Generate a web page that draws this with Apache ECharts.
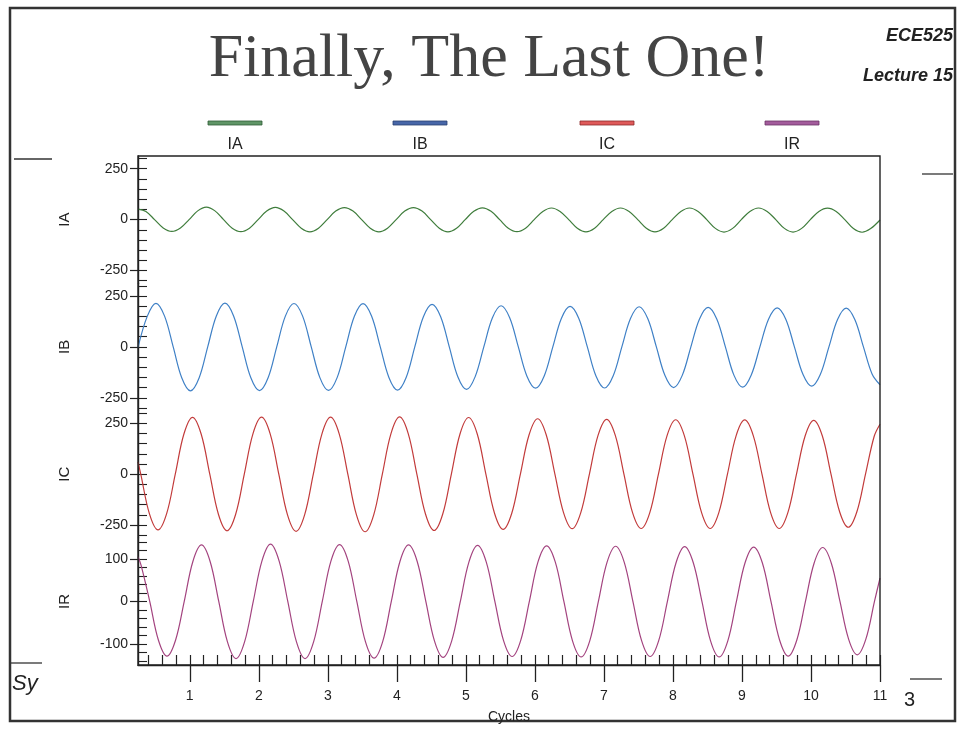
<!DOCTYPE html>
<html><head><meta charset="utf-8">
<script src="https://cdn.jsdelivr.net/npm/echarts@6/dist/echarts.min.js"></script>
<style>html,body{margin:0;padding:0;background:#fff}#c{width:964px;height:729px}</style>
</head><body><div id="c"></div>
<script>
// ---- data: [cycle, current] samples (eight per cycle, aligned on peaks/troughs) ----
const seriesNames = ['IA', 'IB', 'IC', 'IR'];
const iaPoints = [
  [0.25,52],[0.365,40],[0.49,0],[0.615,-41],[0.74,-58],[0.865,-41],[0.99,0],[1.115,43],
  [1.24,61],[1.365,43],[1.49,0],[1.615,-42],[1.74,-59],[1.865,-42],[1.99,0],[2.115,42],
  [2.24,60],[2.365,42],[2.49,0],[2.615,-42],[2.74,-60],[2.865,-42],[2.99,0],[3.115,42],
  [3.24,59],[3.365,42],[3.49,0],[3.615,-42],[3.74,-60],[3.865,-42],[3.99,0],[4.115,42],
  [4.24,59],[4.365,42],[4.49,0],[4.615,-42],[4.74,-60],[4.865,-42],[4.99,0],[5.115,41],
  [5.24,58],[5.365,41],[5.49,0],[5.615,-42],[5.74,-59],[5.865,-42],[5.99,0],[6.115,40],
  [6.24,57],[6.365,40],[6.49,0],[6.615,-42],[6.74,-60],[6.865,-42],[6.99,0],[7.115,40],
  [7.24,57],[7.365,40],[7.49,0],[7.615,-42],[7.74,-60],[7.865,-42],[7.99,0],[8.115,40],
  [8.24,57],[8.365,40],[8.49,0],[8.615,-43],[8.74,-61],[8.865,-43],[8.99,0],[9.115,40],
  [9.24,57],[9.365,40],[9.49,0],[9.615,-43],[9.74,-61],[9.865,-43],[9.99,0],[10.115,40],
  [10.24,56],[10.365,40],[10.49,0],[10.615,-44],[10.74,-62],[10.865,-44],[11,-2]
];
const ibPoints = [
  [0.25,-3],[0.385,151],[0.51,214],[0.635,151],[0.76,0],[0.885,-153],[1.01,-216],[1.135,-153],
  [1.26,0],[1.385,152],[1.51,215],[1.635,152],[1.76,0],[1.885,-152],[2.01,-215],[2.135,-152],
  [2.26,0],[2.385,151],[2.51,213],[2.635,151],[2.76,0],[2.885,-151],[3.01,-214],[3.135,-151],
  [3.26,0],[3.385,150],[3.51,212],[3.635,150],[3.76,0],[3.885,-150],[4.01,-212],[4.135,-150],
  [4.26,0],[4.385,148],[4.51,209],[4.635,148],[4.76,0],[4.885,-148],[5.01,-209],[5.135,-146],
  [5.26,0],[5.385,143],[5.51,202],[5.635,143],[5.76,0],[5.885,-144],[6.01,-203],[6.135,-143],
  [6.26,0],[6.385,141],[6.51,199],[6.635,141],[6.76,0],[6.885,-143],[7.01,-202],[7.135,-142],
  [7.26,0],[7.385,139],[7.51,197],[7.635,139],[7.76,0],[7.885,-141],[8.01,-200],[8.135,-140],
  [8.26,0],[8.385,137],[8.51,194],[8.635,137],[8.76,0],[8.885,-140],[9.01,-198],[9.135,-138],
  [9.26,0],[9.385,136],[9.51,192],[9.635,136],[9.76,0],[9.885,-136],[10.01,-193],[10.135,-136],
  [10.26,0],[10.385,134],[10.51,190],[10.635,134],[10.76,0],[10.885,-133],[11,-186]
];
const icPoints = [
  [0.25,60],[0.29,0],[0.415,-194],[0.54,-274],[0.665,-194],[0.79,0],[0.915,197],
  [1.04,279],[1.165,197],[1.29,0],[1.415,-197],[1.54,-278],[1.665,-197],[1.79,0],[1.915,198],
  [2.04,280],[2.165,198],[2.29,0],[2.415,-199],[2.54,-281],[2.665,-199],[2.79,0],[2.915,198],
  [3.04,280],[3.165,198],[3.29,0],[3.415,-200],[3.54,-283],[3.665,-200],[3.79,0],[3.915,199],
  [4.04,281],[4.165,199],[4.29,0],[4.415,-196],[4.54,-277],[4.665,-196],[4.79,0],[4.915,197],
  [5.04,278],[5.165,197],[5.29,0],[5.415,-192],[5.54,-271],[5.665,-192],[5.79,0],[5.915,192],
  [6.04,272],[6.165,192],[6.29,0],[6.415,-189],[6.54,-268],[6.665,-189],[6.79,0],[6.915,190],
  [7.04,269],[7.165,190],[7.29,0],[7.415,-189],[7.54,-267],[7.665,-189],[7.79,0],[7.915,189],
  [8.04,267],[8.165,189],[8.29,0],[8.415,-189],[8.54,-267],[8.665,-189],[8.79,0],[8.915,188],
  [9.04,266],[9.165,188],[9.29,0],[9.415,-189],[9.54,-267],[9.665,-189],[9.79,0],[9.915,187],
  [10.04,264],[10.165,187],[10.29,0],[10.415,-185],[10.54,-261],[10.665,-185],[10.79,0],[10.915,185],[11,245]
];
const irPoints = [
  [0.25,105],[0.295,85],[0.42,0],[0.545,-91],[0.67,-129],[0.795,-91],[0.92,0],[1.045,94],
  [1.17,133],[1.295,94],[1.42,0],[1.545,-95],[1.67,-135],[1.795,-95],[1.92,0],[2.045,95],
  [2.17,135],[2.295,95],[2.42,0],[2.545,-95],[2.67,-135],[2.795,-95],[2.92,0],[3.045,95],
  [3.17,134],[3.295,95],[3.42,0],[3.545,-95],[3.67,-134],[3.795,-95],[3.92,0],[4.045,94],
  [4.17,133],[4.295,94],[4.42,0],[4.545,-93],[4.67,-132],[4.795,-93],[4.92,0],[5.045,93],
  [5.17,132],[5.295,93],[5.42,0],[5.545,-92],[5.67,-130],[5.795,-92],[5.92,0],[6.045,93],
  [6.17,131],[6.295,93],[6.42,0],[6.545,-93],[6.67,-131],[6.795,-93],[6.92,0],[7.045,92],
  [7.17,130],[7.295,92],[7.42,0],[7.545,-92],[7.67,-130],[7.795,-92],[7.92,0],[8.045,91],
  [8.17,129],[8.295,91],[8.42,0],[8.545,-93],[8.67,-131],[8.795,-93],[8.92,0],[9.045,91],
  [9.17,128],[9.295,91],[9.42,0],[9.545,-91],[9.67,-129],[9.795,-91],[9.92,0],[10.045,90],
  [10.17,127],[10.295,90],[10.42,0],[10.545,-89],[10.67,-126],[10.795,-89],[10.92,0],[11,55]
];
const xTickLabels = [1,2,3,4,5,6,7,8,9,10,11];
const yTickLabelsCurrent = [-250, 0, 250];
const yTickLabelsIR = [-100, 0, 100];
const xRange = [0.25, 11];
const yRanges = [[-312.5,312.5],[-312.5,312.5],[-312.5,312.5],[-150,150]];

// ---- styling / layout ----
const lineColors = ['#3f7d3c', '#3f80c6', '#c23b3b', '#a3437f'];
const legendFill = ['#5f9566', '#4766a8', '#df5a5a', '#a35c9c'];
const legendStroke = ['#2f5a35', '#2a3f70', '#8a2a2a', '#6a3465'];
const legendX = [235, 420, 607, 792];
const L = 138, T = 156, W = 742, H = 509, PH = H / 4;
const FONT = 'Liberation Sans';

const allPoints = [iaPoints, ibPoints, icPoints, irPoints];
const majorY = [yTickLabelsCurrent, yTickLabelsCurrent, yTickLabelsCurrent, yTickLabelsIR];
const minorY = [];
for (let i = 0; i < 4; i++) {
  const step = i === 3 ? 20 : 50, lim = i === 3 ? 140 : 300, arr = [];
  for (let v = -lim; v <= lim + 1e-9; v += step) arr.push(v);
  minorY.push(arr);
}
const minorX = [];
for (let k = 2; k <= 55; k++) minorX.push(+(k * 0.2).toFixed(1));

const grids = [], xAxes = [], yAxes = [], series = [];
for (let i = 0; i < 4; i++) {
  grids.push({ left: L, top: T + i * PH, width: W, height: PH });
  const bottom = i === 3;
  xAxes.push({
    gridIndex: i, type: 'value', min: xRange[0], max: xRange[1], position: 'bottom',
    show: bottom,
    axisLine: { show: bottom, onZero: false, lineStyle: { color: '#222', width: 1.4 } },
    axisTick: { show: bottom, inside: false, length: 17, customValues: xTickLabels, lineStyle: { color: '#222', width: 1.3 } },
    axisLabel: { show: bottom, customValues: xTickLabels, margin: 24, fontSize: 14, fontFamily: FONT, color: '#222' },
    splitLine: { show: false },
    name: bottom ? 'Cycles' : '', nameLocation: 'middle', nameGap: 45,
    nameTextStyle: { fontSize: 14, fontFamily: FONT, color: '#222' }
  });
  yAxes.push({
    gridIndex: i, type: 'value', min: yRanges[i][0], max: yRanges[i][1], position: 'left',
    axisLine: { show: true, onZero: false, lineStyle: { color: '#222', width: 1.4 } },
    axisTick: { show: true, inside: false, length: 8, customValues: majorY[i], lineStyle: { color: '#222', width: 1.2 } },
    axisLabel: { customValues: majorY[i], margin: 10, fontSize: 14, fontFamily: FONT, color: '#222' },
    splitLine: { show: false },
    name: seriesNames[i], nameLocation: 'middle', nameRotate: 90, nameGap: 66,
    nameTextStyle: { fontSize: 15, fontFamily: FONT, color: '#222' }
  });
  yAxes.push({
    gridIndex: i, type: 'value', min: yRanges[i][0], max: yRanges[i][1], position: 'left',
    axisLine: { show: false, onZero: false },
    axisTick: { show: true, inside: true, length: 9, customValues: minorY[i], lineStyle: { color: '#222', width: 1.1 } },
    axisLabel: { show: false },
    splitLine: { show: false }
  });
  series.push({
    name: seriesNames[i], type: 'line', xAxisIndex: i, yAxisIndex: 2 * i,
    data: allPoints[i],
    showSymbol: false, smooth: 0.35, silent: true,
    lineStyle: { color: lineColors[i], width: 1.2 }
  });
}
// minor x ticks (inside) on the bottom panel
xAxes.push({
  gridIndex: 3, type: 'value', min: xRange[0], max: xRange[1], position: 'bottom',
  axisLine: { show: false, onZero: false },
  axisTick: { show: true, inside: true, length: 10, customValues: minorX, lineStyle: { color: '#222', width: 1.2 } },
  axisLabel: { show: false }, splitLine: { show: false }
});

const graphic = [
  // slide frame and decorations
  { type: 'rect', shape: { x: 10, y: 8, width: 945, height: 713 }, style: { fill: 'none', stroke: '#333', lineWidth: 2.5 }, silent: true },
  { type: 'line', shape: { x1: 14, y1: 159, x2: 52, y2: 159 }, style: { stroke: '#333', lineWidth: 1.3 } },
  { type: 'line', shape: { x1: 922, y1: 174, x2: 953, y2: 174 }, style: { stroke: '#333', lineWidth: 1.3 } },
  { type: 'line', shape: { x1: 10, y1: 663, x2: 42, y2: 663 }, style: { stroke: '#333', lineWidth: 1.3 } },
  { type: 'line', shape: { x1: 910, y1: 679, x2: 942, y2: 679 }, style: { stroke: '#333', lineWidth: 1.3 } },
  { type: 'text', x: 12, y: 684, style: { text: 'Sy', font: 'italic 22px ' + FONT, fill: '#222', textVerticalAlign: 'middle' } },
  { type: 'text', x: 904, y: 700, style: { text: '3', font: '20px ' + FONT, fill: '#222', textVerticalAlign: 'middle' } },
  // title and header
  { type: 'text', x: 489, y: 60, style: { text: 'Finally, The Last One!', font: '62px "Liberation Serif"', fill: '#444', textAlign: 'center', textVerticalAlign: 'middle' } },
  { type: 'text', x: 953, y: 36, style: { text: 'ECE525', font: 'italic bold 18px ' + FONT, fill: '#222', textAlign: 'right', textVerticalAlign: 'middle' } },
  { type: 'text', x: 953, y: 76, style: { text: 'Lecture 15', font: 'italic bold 18px ' + FONT, fill: '#222', textAlign: 'right', textVerticalAlign: 'middle' } },
  // plot frame
  { type: 'rect', shape: { x: L, y: T, width: W, height: H }, style: { fill: 'none', stroke: '#222', lineWidth: 1.4 }, silent: true, z: 10 }
];
seriesNames.forEach((n, i) => {
  graphic.push({ type: 'rect', shape: { x: legendX[i] - 27, y: 121, width: 54, height: 4 }, style: { fill: legendFill[i], stroke: legendStroke[i], lineWidth: 0.8 } });
  graphic.push({ type: 'text', x: legendX[i], y: 145, style: { text: n, font: '16px ' + FONT, fill: '#222', textAlign: 'center', textVerticalAlign: 'middle' } });
});

const chart = echarts.init(document.getElementById('c'), null, { renderer: 'canvas' });
chart.setOption({
  animation: false,
  backgroundColor: '#fff',
  grid: grids, xAxis: xAxes, yAxis: yAxes, series: series,
  graphic: graphic
});
</script></body></html>
